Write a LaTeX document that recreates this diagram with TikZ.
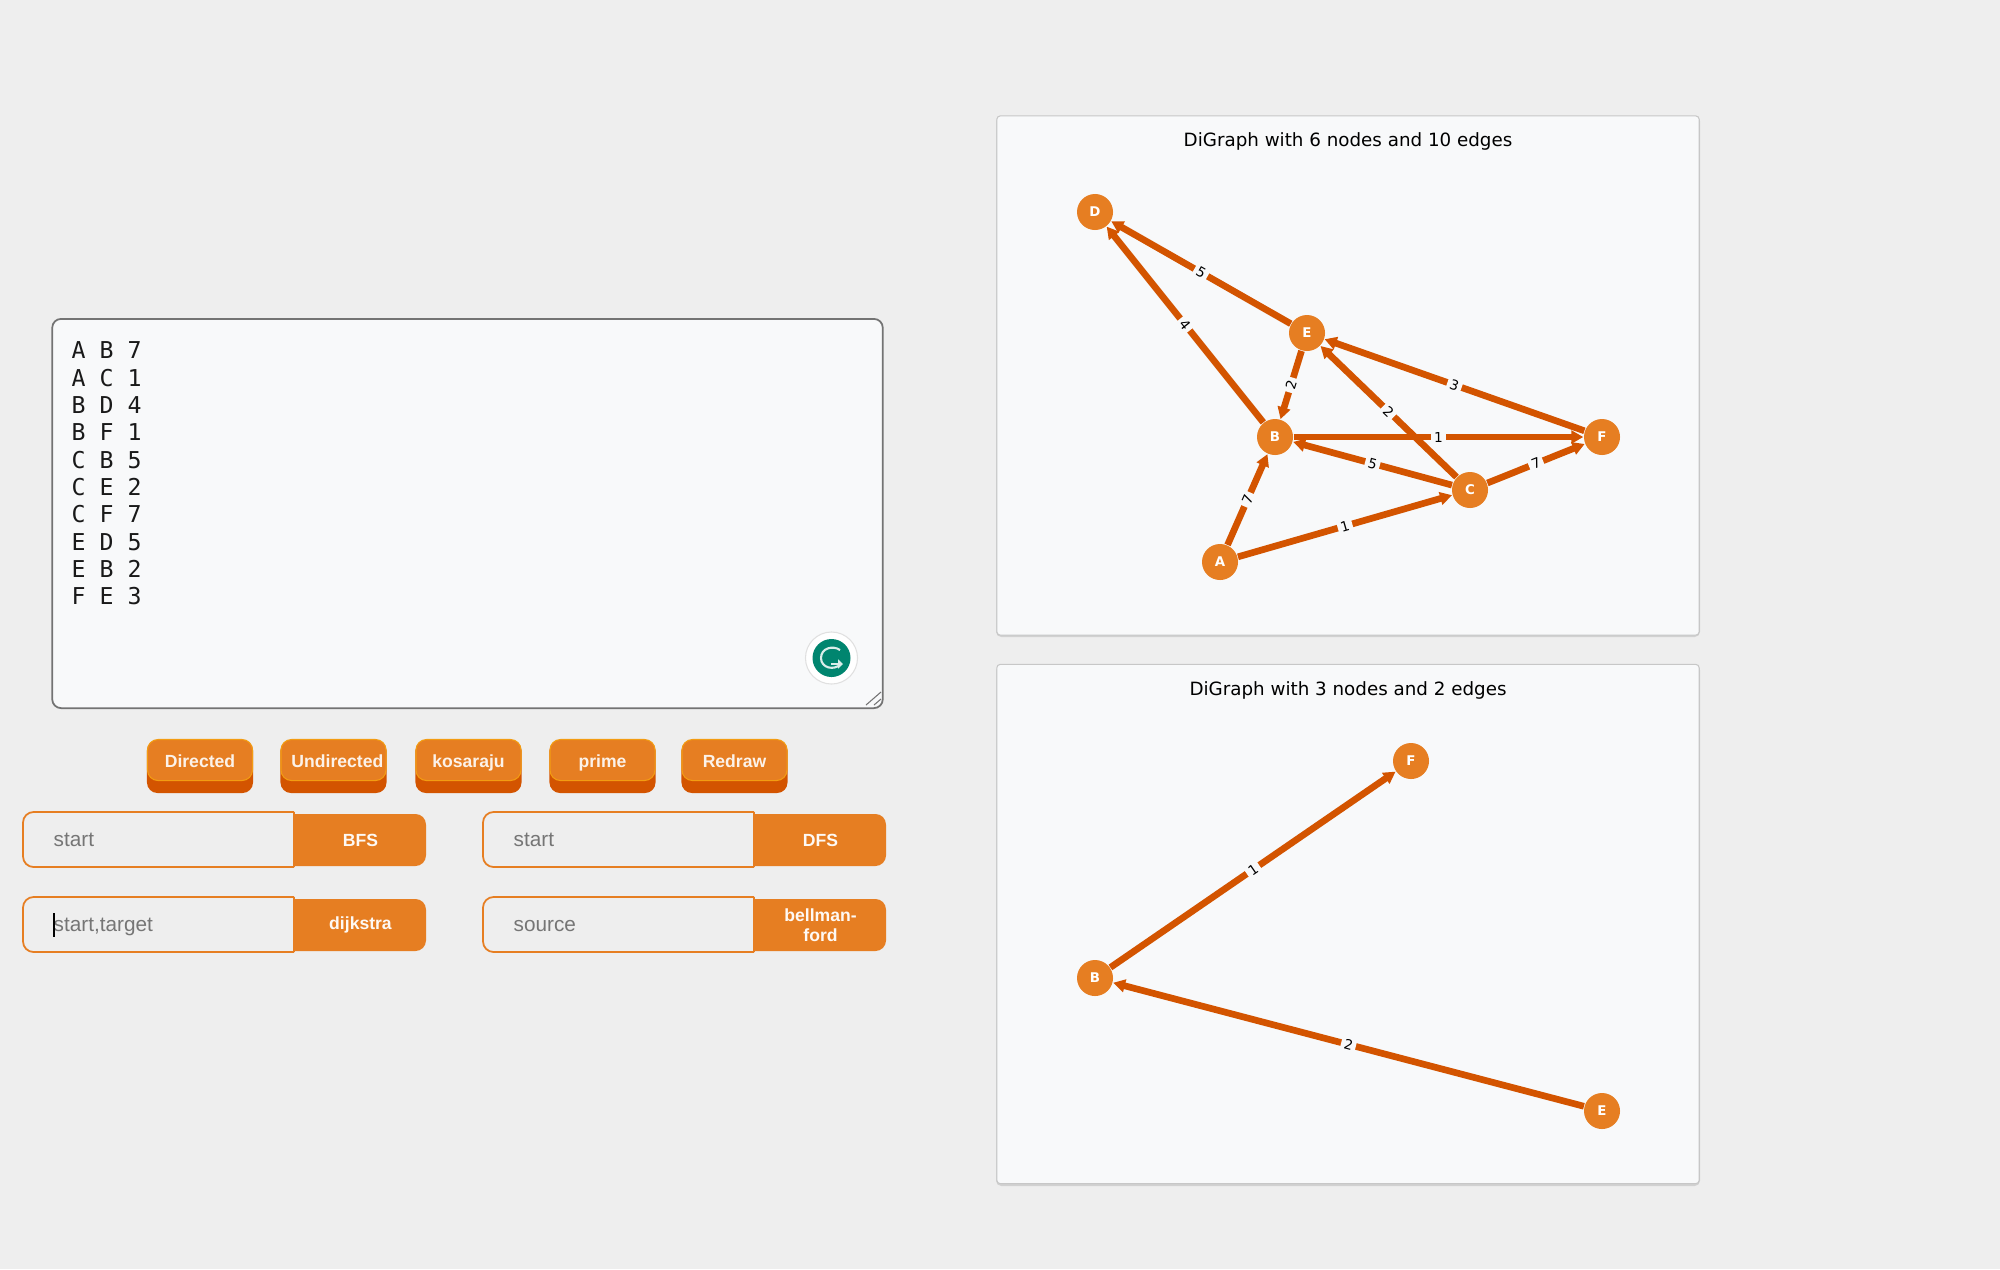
\documentclass[tikz,border=0pt]{standalone}
\usepackage{fontspec}
\setmainfont{Liberation Sans}
\setmonofont{DejaVu Sans Mono}
\newfontfamily\plotfont{DejaVu Sans}
\usetikzlibrary{arrows.meta}
\definecolor{pagegrey}{HTML}{EEEEEE}
\definecolor{panelwhite}{HTML}{F8F9FA}
\definecolor{carrot}{HTML}{E67E22}
\definecolor{pumpkin}{HTML}{D35400}
\definecolor{sunflower}{HTML}{F39C12}
\definecolor{hintgrey}{HTML}{757575}
\definecolor{grammarlygreen}{HTML}{00856F}
\tikzset{
  panel/.style={draw=black!22, line width=0.3pt, fill=panelwhite, rounded corners=1pt,
    minimum width=7.02cm, minimum height=5.19cm, inner sep=0pt},
  panelshadow/.style={fill=black!18, rounded corners=1.5pt},
  plottitle/.style={font=\plotfont\fontsize{5.2}{6}\selectfont, text=black},
  vertex/.style={circle, fill=carrot, text=white, minimum size=0.36cm, inner sep=0pt,
    font=\plotfont\bfseries\fontsize{3.8}{5}\selectfont},
  edge/.style={pumpkin, line width=1.9pt, -{Triangle[length=3.4pt, width=3.6pt]}},
  weight/.style={fill=panelwhite, text=black, inner sep=0.9pt, sloped, midway,
    font=\plotfont\fontsize{3.9}{5}\selectfont},
  pressbase/.style={fill=pumpkin, rounded corners=3pt, minimum width=1.06cm, minimum height=0.53cm,
    inner sep=0pt},
  pressface/.style={fill=carrot, draw=sunflower, line width=0.3pt, rounded corners=3pt,
    minimum width=1.05cm, minimum height=0.41cm, inner sep=0pt, text=white!90!carrot,
    text height=4.5pt, text depth=0.5pt, font=\bfseries\fontsize{5}{6}\selectfont},
  hint/.style={text=hintgrey, anchor=base west, inner sep=0pt, font=\fontsize{5.9}{7}\selectfont},
  golabel/.style={text=white!95!carrot, align=center, inner sep=0pt,
    font=\bfseries\fontsize{5}{5.6}\selectfont}
}
\begin{document}
\begin{tikzpicture}[x=0.01cm, y=-0.01cm]
  \useasboundingbox (0,0) rectangle (2000,1269);
  \fill[pagegrey] (0,0) rectangle (2000,1269);

  % text box
  \node[draw=black!55, line width=0.5pt, fill=panelwhite, rounded corners=2.5pt, minimum width=8.3cm,
    minimum height=3.89cm, inner sep=0pt] (edgebox) at (467.5,513.5) {};
  \node[anchor=north west, align=left, inner sep=0pt, text=black!90,
    font=\ttfamily\fontsize{6.6}{7.78}\selectfont] (edgelist) at (71,341) {A B 7\\A C 1\\B D 4\\B F 1\\C B 5\\C E 2\\C F 7\\E D 5\\E B 2\\F E 3};
  \node[circle, draw=black!12, fill=white, line width=0.3pt, minimum size=0.52cm, inner sep=0pt] (gring) at (831.5,658) {};
  \node[circle, fill=grammarlygreen, minimum size=0.38cm, inner sep=0pt] (gdot) at (gring) {};
  \draw[white!85!grammarlygreen, line width=0.6pt] (840,650) .. controls (833,645) and (821,648) .. (821,658)
    .. controls (821,668) and (834,671) .. (841,664);
  \draw[white!85!grammarlygreen, line width=0.6pt, -{Triangle[length=1.4pt, width=2.6pt]}] (831,664) -- (843,664);
  \draw[black!55, line width=0.3pt] (866,705) -- (881,692) (874,705) -- (881,699);

  % buttons
  \foreach \n/\x/\t in {directed/200/Directed, undirected/333.5/\hspace*{2.2pt}Undirected, kosaraju/468.5/kosaraju,
      prime/602.5/prime, redraw/734.5/Redraw} {
    \node[pressbase] (\n base) at (\x,766.5) {};
    \node[pressface] (\n) at (\x,760) {\t};
  }

  % search fields
  \foreach \n/\x/\y/\h/\l in {bfs/23/812/start/BFS, dfs/483/812/start/DFS, dijkstra/23/897/start{,}target/dijkstra,
      bellman/483/897/source/{bellman-\\ford}} {
    \fill[carrot, rounded corners=3pt] (\x+250,\y+2) rectangle (\x+403,\y+54);
    \draw[carrot, line width=0.5pt, fill=pagegrey, rounded corners=3pt]
      (\x+271,\y) -- (\x,\y) -- (\x,\y+55) -- (\x+271,\y+55);
    \draw[carrot, line width=0.5pt] (\x+271,\y) -- (\x+271,\y+55);
    \node[hint] (\n field) at (\x+30,\y+34.5) {\h};
    \node[golabel] (\n) at (\x+337.5,\y+28) {\l};
  }
  \draw[black, line width=0.4pt] (54,913) -- (54,937);

  % first graph
  \fill[panelshadow] (996,116) rectangle (1700,637);
  \node[panel] (upper) at (1348,375.5) {};
  \node[plottitle] (uppertitle) at (1348,141) {DiGraph with 6 nodes and 10 edges};
  \foreach \n/\x/\y in {A/1220/562, B/1275/437, C/1470/490, D/1095/212, E/1307/333, F/1602/437}
    \node[vertex] (\n) at (\x,\y) {\n};
  \foreach \a/\b/\w in {A/B/7, A/C/1, B/D/4, B/F/1, C/B/5, C/E/2, C/F/7, E/D/5, E/B/2, F/E/3}
    \draw[edge] (\a) -- node[weight] {\w} (\b);

  % second graph
  \fill[panelshadow] (996,665) rectangle (1700,1186);
  \node[panel] (lower) at (1348,924) {};
  \node[plottitle] (lowertitle) at (1348,690) {DiGraph with 3 nodes and 2 edges};
  \foreach \n/\t/\x/\y in {pathB/B/1095/978, pathE/E/1602/1111, pathF/F/1411/761}
    \node[vertex] (\n) at (\x,\y) {\t};
  \draw[edge] (pathB) -- node[weight] {1} (pathF);
  \draw[edge] (pathE) -- node[weight] {2} (pathB);
\end{tikzpicture}
\end{document}
